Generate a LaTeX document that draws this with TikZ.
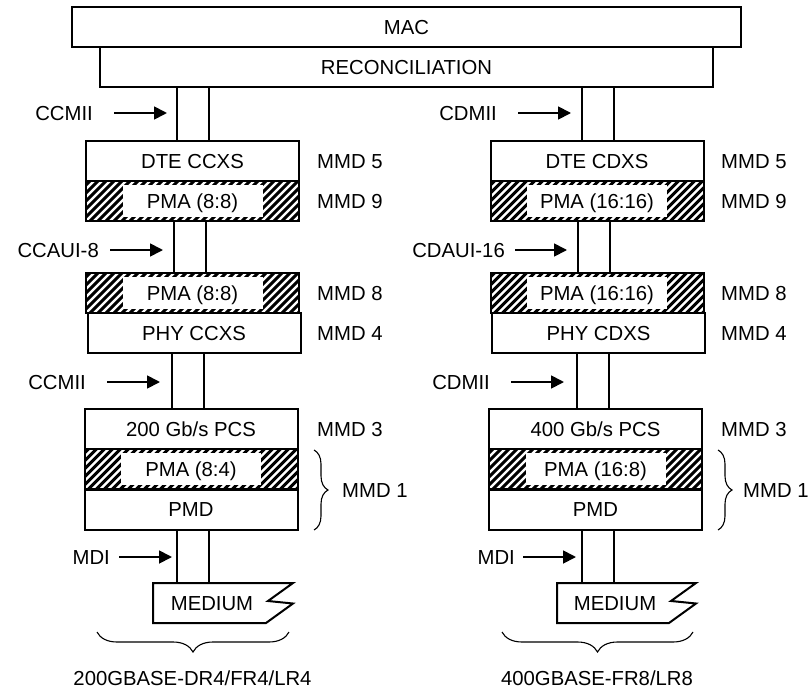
\documentclass[tikz,border=0pt]{standalone}
\usepackage{fontspec}
\setmainfont{Liberation Sans}
\usetikzlibrary{arrows.meta,decorations.pathreplacing}
\begin{document}
\begin{tikzpicture}[x=1pt,y=-1pt,
  font=\fontsize{20.3}{24}\selectfont,
  txt/.style={inner sep=0pt, text height=14.6pt, text depth=0pt},
  box/.style={draw, line width=2pt, fill=white, minimum width=213pt, minimum height=40pt, inner sep=0pt, text height=14.6pt, text depth=0pt},
  hbox/.style={box, path picture={
    \foreach \k in {0,8,...,300}{
      \draw[line width=3pt] ([xshift=\k pt-60pt]path picture bounding box.south west) -- ++(60pt,60pt);
    }
    \fill[white] ([xshift=-70pt,yshift=-16pt]path picture bounding box.center) rectangle ([xshift=70pt,yshift=16pt]path picture bounding box.center);
  }},
  stem/.style={draw, line width=2pt, minimum width=32pt, inner sep=0pt},
  arr/.style={line width=1.8pt, -{Triangle[length=13pt,width=13pt]}},
  lbl/.style={txt, anchor=west},
  ilbl/.style={txt, anchor=east},
  medium/.style={draw, line width=2pt, fill=white, line join=miter},
  brc/.style={draw, line width=1.1pt, decorate, decoration={brace, amplitude=#1}},
]
\useasboundingbox (0,0) rectangle (811,690);

% top
\node[box, minimum width=669pt] (mac) at (406.5,27) {MAC};
\node[box, minimum width=613pt] (rec) at (406.5,67) {RECONCILIATION};

% ===== left column =====
\node[stem, minimum height=54pt] (s1L) at (193,114) {};
\node[stem, minimum height=52pt] (s2L) at (190,247) {};
\node[stem, minimum height=56pt] (s3L) at (188,381) {};
\node[stem, minimum height=53pt] (s4L) at (193,556.5) {};

\node[box]  (dteL) at (192.5,161) {DTE CCXS};
\node[hbox] (pma1L) at (192.5,201) {PMA (8:8)};
\node[hbox] (pma2L) at (192.5,293) {PMA (8:8)};
\node[box]  (phyL) at (194,333) {PHY CCXS};
\node[box]  (pcsL) at (191,429) {200 Gb/s PCS};
\node[hbox] (pma3L) at (191,469) {PMA (8:4)};
\node[box]  (pmdL) at (191,509.5) {PMD};

\draw[medium] (153,583) -- (293,583) -- (268,601) -- (293,603.5) -- (266,623) -- (153,623) -- cycle;
\node[txt] (medL) at (212,603) {MEDIUM};

\node[ilbl] (ccmii1) at (93,113) {CCMII};
\coordinate (a1Ls) at (114,113); \coordinate (a1Le) at (167,113);
\draw[arr] (a1Ls) -- (a1Le);
\node[ilbl] (ccaui) at (99,250) {CCAUI-8};
\coordinate (a2Ls) at (110,250); \coordinate (a2Le) at (163,250);
\draw[arr] (a2Ls) -- (a2Le);
\node[ilbl] (ccmii2) at (86,382) {CCMII};
\coordinate (a3Ls) at (107,382); \coordinate (a3Le) at (160,382);
\draw[arr] (a3Ls) -- (a3Le);
\node[ilbl] (mdiL) at (110,557) {MDI};
\coordinate (a4Ls) at (119,557); \coordinate (a4Le) at (172,557);
\draw[arr] (a4Ls) -- (a4Le);

\node[lbl] (m5L) at (317,161) {MMD 5};
\node[lbl] (m9L) at (317,201) {MMD 9};
\node[lbl] (m8L) at (317,293) {MMD 8};
\node[lbl] (m4L) at (317,333) {MMD 4};
\node[lbl] (m3L) at (317,429) {MMD 3};
\draw[brc=14pt] (314,450) -- (314,530);
\node[lbl] (m1L) at (342,490) {MMD 1};

\draw[brc=20pt] (289,632) -- (97,632);
\node[txt] (phyname1) at (192.5,678) {200GBASE-DR4/FR4/LR4};

% ===== right column =====
\node[stem, minimum height=54pt] (s1R) at (598,114) {};
\node[stem, minimum height=52pt] (s2R) at (593.5,247) {};
\node[stem, minimum height=56pt] (s3R) at (593,381) {};
\node[stem, minimum height=53pt] (s4R) at (597.5,556.5) {};

\node[box]  (dteR) at (597,161) {DTE CDXS};
\node[hbox] (pma1R) at (597,201) {PMA (16:16)};
\node[hbox] (pma2R) at (597,293) {PMA (16:16)};
\node[box]  (phyR) at (598.5,333) {PHY CDXS};
\node[box]  (pcsR) at (595.5,429) {400 Gb/s PCS};
\node[hbox] (pma3R) at (595.5,469) {PMA (16:8)};
\node[box]  (pmdR) at (595.5,509.5) {PMD};

\draw[medium] (557,583) -- (696,583) -- (671,601) -- (696,603.5) -- (669,623) -- (557,623) -- cycle;
\node[txt] (medR) at (615,603) {MEDIUM};

\node[ilbl] (cdmii1) at (497,113) {CDMII};
\coordinate (a1Rs) at (518,113); \coordinate (a1Re) at (571,113);
\draw[arr] (a1Rs) -- (a1Re);
\node[ilbl] (cdaui) at (505,250) {CDAUI-16};
\coordinate (a2Rs) at (515,250); \coordinate (a2Re) at (567,250);
\draw[arr] (a2Rs) -- (a2Re);
\node[ilbl] (cdmii2) at (490,382) {CDMII};
\coordinate (a3Rs) at (511,382); \coordinate (a3Re) at (564,382);
\draw[arr] (a3Rs) -- (a3Re);
\node[ilbl] (mdiR) at (515,557) {MDI};
\coordinate (a4Rs) at (523,557); \coordinate (a4Re) at (576,557);
\draw[arr] (a4Rs) -- (a4Re);

\node[lbl] (m5R) at (721,161) {MMD 5};
\node[lbl] (m9R) at (721,201) {MMD 9};
\node[lbl] (m8R) at (721,293) {MMD 8};
\node[lbl] (m4R) at (721,333) {MMD 4};
\node[lbl] (m3R) at (721,429) {MMD 3};
\draw[brc=14pt] (718,450) -- (718,530);
\node[lbl] (m1R) at (743,490) {MMD 1};

\draw[brc=20pt] (693,632) -- (502,632);
\node[txt] (phyname2) at (597,678) {400GBASE-FR8/LR8};
\end{tikzpicture}
\end{document}
